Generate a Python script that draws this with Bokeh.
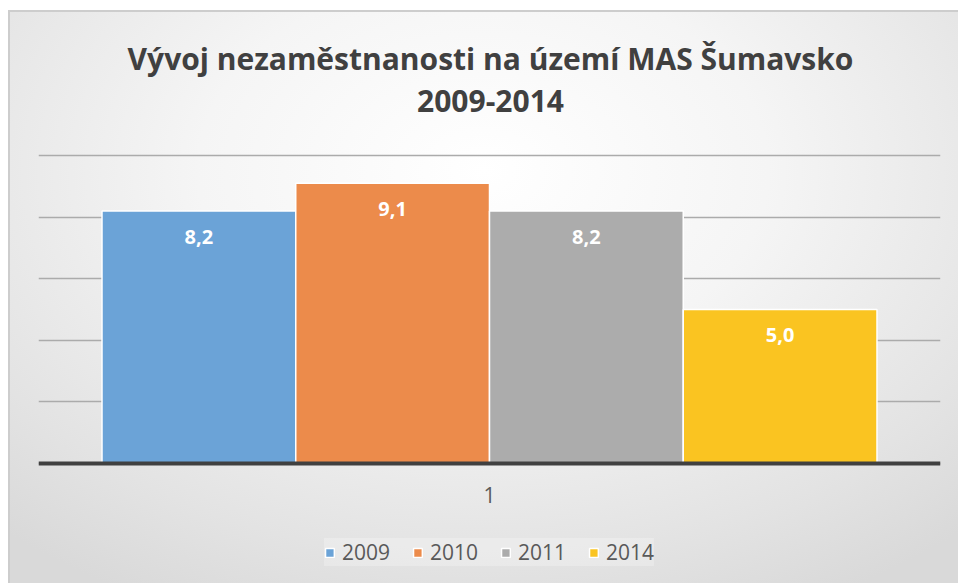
from bokeh.plotting import figure
from bokeh.models import ColumnDataSource, FactorRange, LabelSet, Label, Legend, LegendItem, FixedTicker
from bokeh.core.properties import value
from bokeh.transform import dodge
from bokeh.embed import file_html
from bokeh.resources import INLINE

title_line1 = "Vývoj nezaměstnanosti na území MAS Šumavsko"
title_line2 = "2009-2014"
categories = ["1"]
years = ["2009", "2010", "2011", "2014"]
values = [8.2, 9.1, 8.2, 5.0]
labels = ["8,2", "9,1", "8,2", "5,0"]
colors = ["#6ba3d7", "#ec8b4b", "#acacac", "#fac421"]
y_ticks = [0, 2, 4, 6, 8, 10]

FONT = "Open Sans"
BAR_W = 0.2148

# frame covers the whole canvas height; value axis scaled so that 0 and 10 sit where the reference has them
p = figure(width=958, height=583, x_range=FactorRange(*categories), y_range=(-3.896, 15.032),
           output_backend="svg", toolbar_location=None,
           min_border_left=38, min_border_right=18, min_border_top=0, min_border_bottom=0)

p.border_fill_color = None
p.background_fill_color = None
p.outline_line_color = None
p.styles = {
    "background": (
        "linear-gradient(#cdcdcd,#cdcdcd) 8px 10px / 950px 2px no-repeat, "
        "linear-gradient(#cdcdcd,#cdcdcd) 8px 10px / 2px 573px no-repeat, "
        "radial-gradient(ellipse 75% 85% at 50% 28%, #ffffff 0%, #f5f5f5 40%, #e3e3e3 80%, #d9d9d9 100%) 8px 10px / 950px 573px no-repeat, "
        "#ffffff"
    ),
}

# chart title (two centred lines), placed in screen units relative to the frame's bottom-left corner
for txt, sy in [(title_line1, 583 - 58), (title_line2, 583 - 100)]:
    p.add_layout(Label(x=452, y=sy, x_units="screen", y_units="screen", text=txt,
                       text_align="center", text_baseline="middle", text_font=FONT,
                       text_font_style="bold", text_font_size="30px", text_color="#404040"))

offsets = [(i - 1.5) * BAR_W for i in range(len(years))]
items = []
for yr, v, lab, col, off in zip(years, values, labels, colors, offsets):
    src = ColumnDataSource(dict(x=categories, top=[v], label=[lab]))
    r = p.vbar(x=dodge("x", off, range=p.x_range), top="top", bottom=0, width=BAR_W,
               source=src, fill_color=col, line_color="white", line_width=1.5)
    items.append(LegendItem(label=yr, renderers=[r]))
    p.add_layout(LabelSet(x=dodge("x", off, range=p.x_range), y="top", text="label", source=src,
                          y_offset=-26, text_align="center", text_baseline="middle",
                          text_color="white", text_font=value(FONT), text_font_style="bold",
                          text_font_size="20px"))

p.yaxis.visible = False
p.xgrid.grid_line_color = None
p.ygrid.ticker = FixedTicker(ticks=y_ticks)
p.ygrid.grid_line_color = "#ababab"
p.ygrid.grid_line_width = 1.5

p.xaxis.fixed_location = 0
p.xaxis.axis_line_color = "#404040"
p.xaxis.axis_line_width = 4
p.xaxis.major_tick_line_color = None
p.xaxis.minor_tick_line_color = None
p.xaxis.major_label_text_font = FONT
p.xaxis.major_label_text_font_size = "21px"
p.xaxis.major_label_text_color = "#595959"
p.xaxis.major_label_standoff = 18

legend = Legend(items=items, orientation="horizontal", location="bottom_center",
                glyph_width=11, glyph_height=11, label_standoff=7, spacing=22,
                label_text_font=FONT, label_text_font_size="21px", label_text_color="#595959",
                background_fill_color="#ffffff", background_fill_alpha=0.25,
                border_line_color=None, margin=17, padding=10)
p.add_layout(legend)

open("out.html", "w").write(file_html(p, INLINE))
